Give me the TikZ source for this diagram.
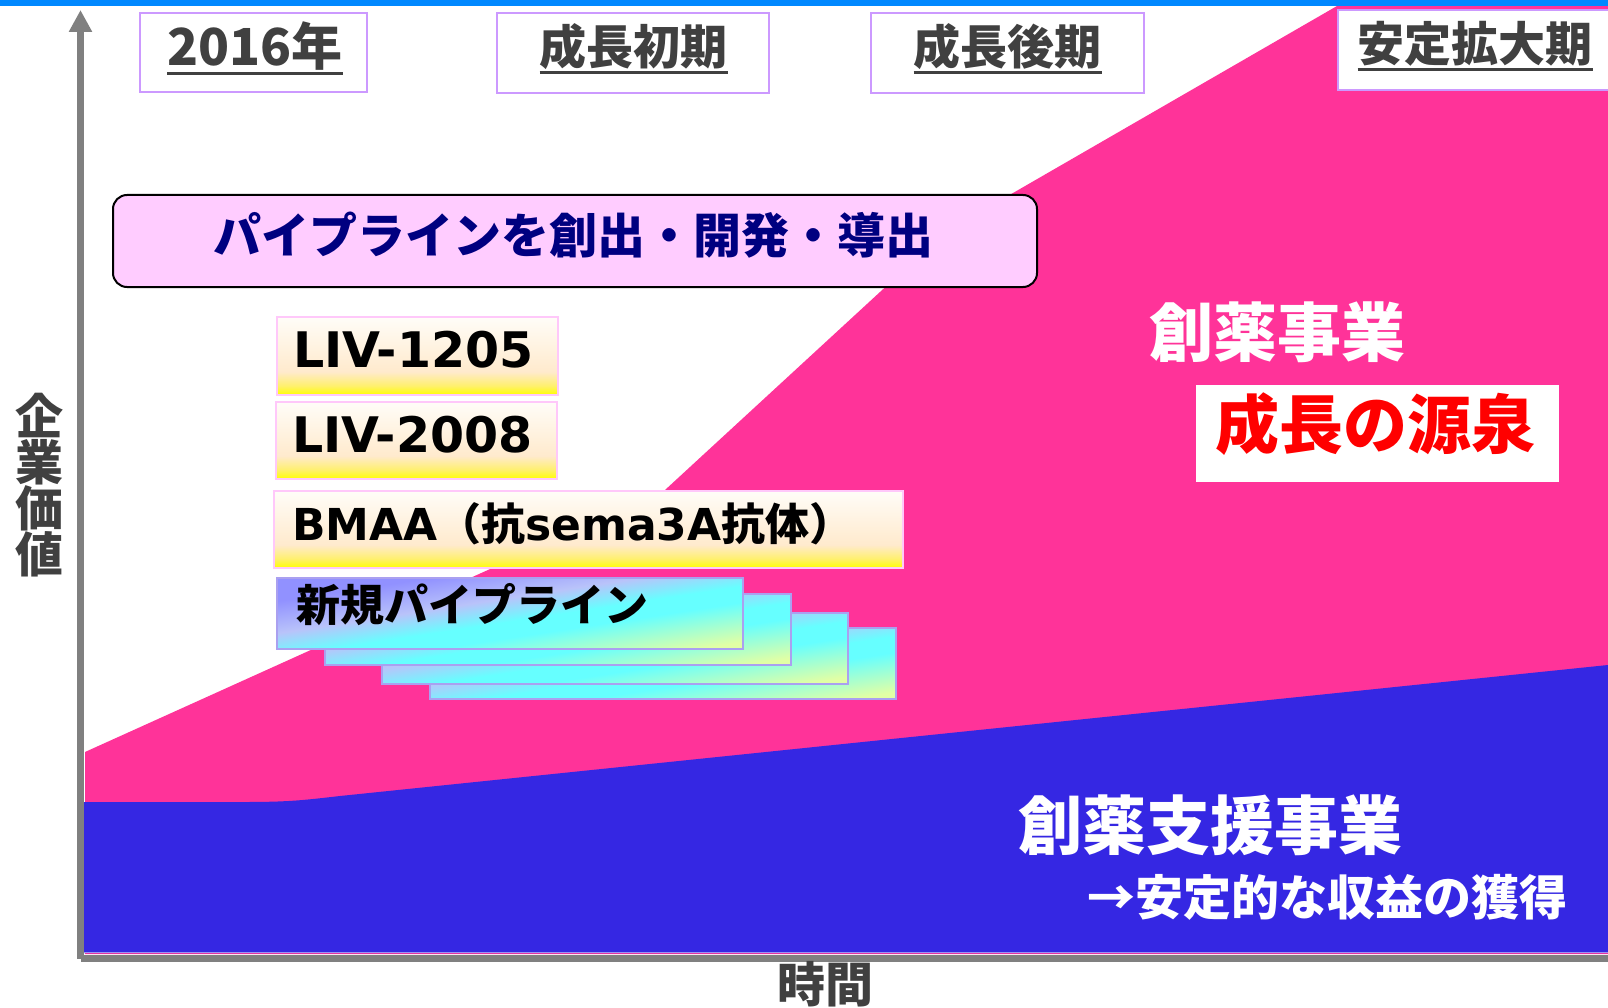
\documentclass[tikz,border=0pt]{standalone}
\usepackage{fontspec}
\setmainfont{DejaVu Sans}
\newfontfamily\jp{Noto Sans CJK JP}
\newfontfamily\lat{DejaVu Sans}
\usetikzlibrary{arrows.meta,calc}
\newcommand\myfs[1]{\fontsize{#1}{#1}\selectfont}
\definecolor{pinkA}{RGB}{255,51,153}
\definecolor{blueA}{RGB}{53,39,227}
\definecolor{barblue}{RGB}{0,136,255}
\definecolor{axisgray}{RGB}{128,128,128}
\definecolor{txtgray}{RGB}{64,64,64}
\definecolor{lilac}{RGB}{204,153,255}
\definecolor{pipefill}{RGB}{255,204,255}
\definecolor{navyA}{RGB}{0,0,128}
\definecolor{livborder}{RGB}{255,200,250}
\definecolor{newborder}{RGB}{170,160,240}
\definecolor{livyellow}{RGB}{255,255,0}
\definecolor{livmid}{RGB}{255,240,110}
\definecolor{livpeach}{RGB}{255,234,205}
\definecolor{livtop}{RGB}{255,253,248}
\definecolor{newpurple}{RGB}{145,145,255}
\definecolor{newlav}{RGB}{185,195,250}
\definecolor{newcyan}{RGB}{102,255,255}
\definecolor{newyellow}{RGB}{225,255,165}
\pgfdeclareverticalshading{livshade}{100bp}{color(0bp)=(livyellow); color(25bp)=(livyellow); color(31bp)=(livmid); color(40bp)=(livpeach); color(75bp)=(livtop); color(100bp)=(livtop)}
\pgfdeclarehorizontalshading{newshade}{100bp}{color(0bp)=(newpurple); color(26bp)=(newpurple); color(42bp)=(newlav); color(54bp)=(newcyan); color(62bp)=(newcyan); color(82bp)=(newyellow); color(100bp)=(newyellow)}
\newcommand\gradbox[2]{%
  \begin{scope}[transform canvas={shift={#2}, xscale=9.32, yscale=1.42}]
    \shade[shading=newshade, shading angle=-45] (-25,-25) rectangle (25,25);
  \end{scope}
  \node[newbox] (#1) at #2 {};
}
\begin{document}
\begin{tikzpicture}[x=1pt,y=-1pt,
  txt/.style={inner sep=0pt, outer sep=0pt},
  periodbox/.style={draw=lilac, line width=2pt, fill=white, inner sep=0pt},
  ptext/.style={txt, text=txtgray, font=\jp\bfseries\myfs{47}},
  uline/.style={draw=txtgray, line width=3.5pt},
  livbox/.style={shade, shading=livshade, draw=livborder, line width=2pt, inner sep=0pt},
  newbox/.style={draw=newborder, line width=2pt, minimum width=466pt, minimum height=71pt, inner sep=0pt},
  axisline/.style={draw=axisgray, line width=7pt}
]
\useasboundingbox (0,0) rectangle (1608,1008);
\fill[white] (0,0) rectangle (1608,1008);
% pink area
\fill[pinkA] (85,752) -- (665,490) -- (880,292) .. controls (920,255) and (953,227) .. (1013,193) -- (1337,6) -- (1608,6) -- (1608,954) -- (85,954) -- cycle;
% blue area
\fill[blueA] (83,802) -- (245,802) .. controls (290,802) and (305,800) .. (340,796) -- (1608,665) -- (1608,953) -- (83,953) -- cycle;
\draw[blueA!50!white, line width=1.5pt] (83,952.5) -- (1608,952.5);
% top bar
\fill[barblue] (0,0) rectangle (1608,6);
% axes
\coordinate (origin) at (80.5,958.5);
\coordinate (ytip) at (80.5,10);
\coordinate (xend) at (1608,958.5);
\draw[axisline, -{Triangle[length=22pt,width=22pt]}] (origin) -- (ytip);
\draw[axisline] (origin) -- (xend);
% period boxes
\node[periodbox, minimum width=227pt, minimum height=79pt] (p1) at (253.5,52.5) {};
\node[periodbox, minimum width=272pt, minimum height=80pt] (p2) at (633,53) {};
\node[periodbox, minimum width=273pt, minimum height=80pt] (p3) at (1007.5,53) {};
\node[periodbox, minimum width=282pt, minimum height=80pt] (p4) at (1479,50) {};
\node[ptext, anchor=base, font=\jp\bfseries\myfs{51}] (t1) at (255,66) {2016年};
\node[ptext, anchor=base] (t2) at (633.5,65) {成長初期};
\node[ptext, anchor=base] (t3) at (1007.5,65) {成長後期};
\node[ptext, anchor=base] (t4) at (1475,62) {安定拡大期};
\foreach \t in {t1,t2,t3,t4}{
  \draw[uline] ($(\t.base west)+(0,7.5)$) -- ($(\t.base east)+(0,7.5)$);
}
% pipeline box
\node[draw=black, line width=2pt, fill=pipefill, rounded corners=14pt, minimum width=924pt, minimum height=92pt, inner sep=0pt] (pipe) at (575,241) {};
\node[txt, anchor=base, text=navyA, font=\jp\bfseries\myfs{48}] (pipet) at (573,254) {パイプラインを創出・開発・導出};
% candidates
\node[livbox, minimum width=281pt, minimum height=78pt] (liv1) at (417.5,356) {};
\node[txt, anchor=base west, font=\lat\bfseries\myfs{49}] (liv1t) at (293,367) {LIV-1205};
\node[livbox, minimum width=281pt, minimum height=77pt] (liv2) at (416.5,440.5) {};
\node[txt, anchor=base west, font=\lat\bfseries\myfs{49}] (liv2t) at (292,452) {LIV-2008};
\node[livbox, minimum width=629pt, minimum height=77pt] (bmaa) at (588.5,529.5) {};
\node[txt, anchor=base west, font=\lat\bfseries\myfs{44}] (bmaat) at (292,540) {BMAA{\jp （抗}sema3A{\jp 抗体）}};
% new pipeline stack
\gradbox{n4}{(663,663.5)}
\gradbox{n3}{(615,648.5)}
\gradbox{n2}{(558,629.5)}
\gradbox{n1}{(510,613.5)}
\node[txt, anchor=base west, font=\jp\bfseries\myfs{44}] (n1t) at (296,621) {新規パイプライン};
% right side labels
\node[txt, anchor=base, text=white, font=\jp\bfseries\myfs{64}] (drug) at (1277.5,356) {創薬事業};
\node[fill=white, minimum width=363pt, minimum height=97pt, inner sep=0pt] (srcbox) at (1377.5,433.5) {};
\node[txt, anchor=base, text=red, font=\jp\bfseries\myfs{64}] (srct) at (1375,448) {成長の源泉};
\node[txt, anchor=base, text=white, font=\jp\bfseries\myfs{64}] (support) at (1210,849) {創薬支援事業};
\node[txt, anchor=base, text=white, font=\jp\bfseries\myfs{48}] (stable) at (1327.5,915) {→安定的な収益の獲得};
% axis labels
\node[txt, text=txtgray, font=\jp\bfseries\fontsize{48}{46}\selectfont, align=center] (ylab) at (39.5,485) {企\\業\\価\\値};
\node[txt, anchor=base, text=txtgray, font=\jp\bfseries\myfs{48}] (xlab) at (825.5,1002) {時間};
\end{tikzpicture}
\end{document}
